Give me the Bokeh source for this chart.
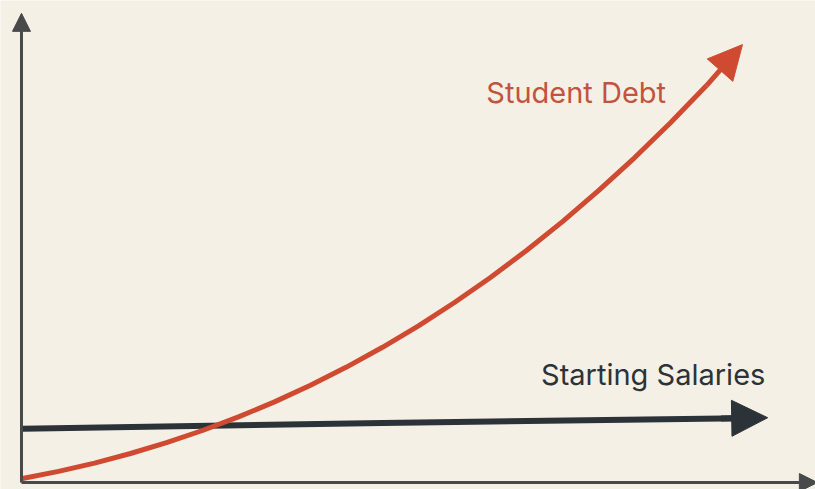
from bokeh.plotting import figure
from bokeh.models import Arrow, NormalHead, Range1d
from bokeh.core.properties import value
from bokeh.embed import file_html
from bokeh.resources import INLINE

# ---- data ----
years = [0, 0.5, 1, 1.5, 2, 2.5, 3, 3.5, 4, 4.5, 5, 5.5, 6, 6.5, 7, 7.5, 8, 8.5, 9, 9.5]
debt = [0.68, 2.30, 4.19, 6.36, 8.82, 11.59, 14.68, 18.10, 21.87, 26.00,
        30.50, 35.39, 40.68, 46.38, 52.50, 59.07, 66.09, 73.57, 81.53, 89.99]
debt_end_year = 10
debt_end_value = 99.3

salary_years = [0, 5, 10]
salaries = [12.0, 13.3, 14.4]
salary_end_year = 10.35
salary_end_value = 14.5

labels = ["Student Debt", "Starting Salaries"]

BG = "#f5f0e6"
RED = "#cf4a30"
RED_TEXT = "#c2533d"
DARK = "#2c3338"
AXIS = "#47494a"

p = figure(width=815, height=489, output_backend="svg", toolbar_location=None,
           x_range=Range1d(-0.3056, 11.014), y_range=Range1d(-1.818, 109.32),
           x_axis_location=None, y_axis_location=None, min_border=0)
p.background_fill_color = BG
p.border_fill_color = BG
p.outline_line_color = None
p.xgrid.visible = False
p.ygrid.visible = False

# axes with arrowheads
p.add_layout(Arrow(end=NormalHead(size=18, fill_color=AXIS, line_color=AXIS, line_width=1),
                   x_start=-0.014, y_start=-0.23, x_end=-0.014, y_end=106.4,
                   line_color=AXIS, line_width=3))
p.add_layout(Arrow(end=NormalHead(size=18, fill_color=AXIS, line_color=AXIS, line_width=1),
                   x_start=-0.014, y_start=-0.23, x_end=11.04, y_end=-0.23,
                   line_color=AXIS, line_width=3))

# salaries
p.line(salary_years, salaries, line_color=DARK, line_width=6)
p.add_layout(Arrow(end=NormalHead(size=36, fill_color=DARK, line_color=DARK, line_width=1),
                   x_start=salary_years[-1] - 0.3, y_start=salaries[-1] - 0.07,
                   x_end=salary_end_year, y_end=salary_end_value,
                   line_color=DARK, line_width=6))

# debt
p.line(years, debt, line_color=RED, line_width=5, line_join="round")
p.add_layout(Arrow(end=NormalHead(size=34, fill_color=RED, line_color=RED, line_width=1),
                   x_start=years[-1], y_start=debt[-1],
                   x_end=debt_end_year, y_end=debt_end_value,
                   line_color=RED, line_width=5))

p.text(x=[7.69], y=[88.4], text=[labels[0]], text_color=RED_TEXT,
       text_font=value("Inter"), text_font_size="29px",
       text_align="center", text_baseline="middle")
p.text(x=[8.76], y=[24.3], text=[labels[1]], text_color=DARK,
       text_font=value("Inter"), text_font_size="29px",
       text_align="center", text_baseline="middle")

open("out.html", "w").write(file_html(p, INLINE))
